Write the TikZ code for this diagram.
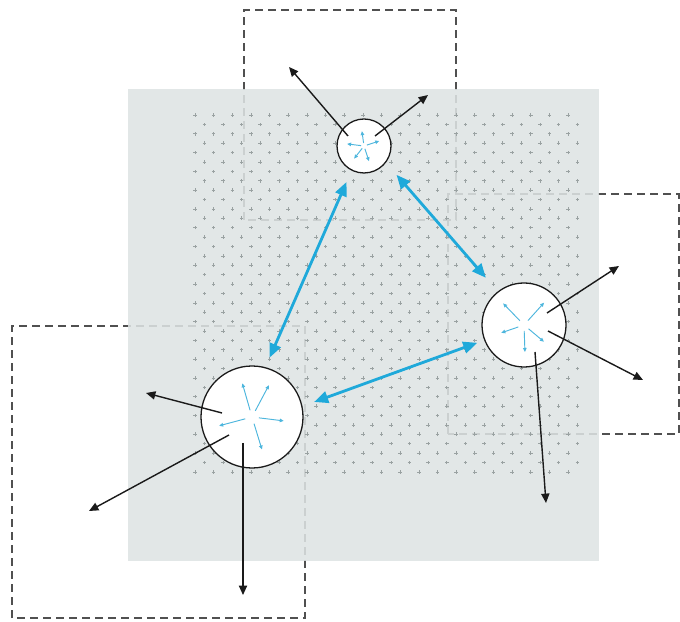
\documentclass[tikz,border=0pt]{standalone}
\usepackage{tikz}
\usetikzlibrary{arrows.meta,calc}
\definecolor{zoneGray}{HTML}{DEE4E4}
\definecolor{tickGray}{HTML}{9AA2A2}
\definecolor{dashGray}{HTML}{505050}
\definecolor{linkBlue}{HTML}{1FA9DA}
\definecolor{spokeBlue}{HTML}{4DB6DD}
\definecolor{legBlack}{HTML}{1A1A1A}

\begin{document}
\begin{tikzpicture}[x=0.03cm,y=0.03cm,
  hub/.style={draw=legBlack,circle,fill=white,line width=1.1pt,inner sep=0pt,outer sep=0pt},
  cell/.style={draw=dashGray,dashed,dash pattern=on 6.8pt off 4.3pt,line width=1.3pt},
  tick/.style={draw=tickGray,line width=0.5pt},
  leg/.style={-{Triangle[length=8pt,width=7pt]},draw=legBlack,line width=1.2pt},
  link/.style={{Triangle[length=12pt,width=10pt]}-{Triangle[length=12pt,width=10pt]},draw=linkBlue,line width=2.4pt},
  spoke/.style={-{Triangle[length=3.4pt,width=3pt]},draw=spokeBlue,line width=0.8pt}]
\useasboundingbox (0,0) rectangle (680,621);
% coverage cells, under the zone
\draw[cell] (244,401) rectangle (456,611);
\draw[cell] (448,187) rectangle (679,427);
\draw[cell] (12,3) rectangle (305,295);
% shared zone
\fill[zoneGray,fill opacity=0.87] (128,60) rectangle (599,532);
% staggered grid of crosses
\foreach \j in {0,...,19}
  \foreach \i in {0,...,20}
    \draw[tick] ({195+18.65*\i},{506-18.78*\j}) +(-1.8,0) -- +(1.8,0) +(0,-1.8) -- +(0,1.8);
\foreach \j in {0,...,18}
  \foreach \i in {0,...,20}
    \draw[tick] ({204.3+18.65*\i},{496.6-18.78*\j}) +(-1.8,0) -- +(1.8,0) +(0,-1.8) -- +(0,1.8);
% hubs
\node[hub,minimum size=1.62cm] (hubtop) at (364,475) {};
\node[hub,minimum size=2.52cm] (hubright) at (524,296) {};
\node[hub,minimum size=3.06cm] (hubleft) at (252,204) {};
% spokes inside each hub
\foreach \a/\l in {98/15,18/16,173/17,232/16,288/16}
  \draw[spoke] ($(hubtop)+(\a:3)$) -- ($(hubtop)+(\a:\l)$);
\foreach \a/\l in {134/30,48/30,199/24,320/26,272/27}
  \draw[spoke] ($(hubright)+(\a:6)$) -- ($(hubright)+(\a:\l)$);
\foreach \a/\l in {106/35,62/36,353/32,195/34,287/34}
  \draw[spoke] ($(hubleft)+(\a:7)$) -- ($(hubleft)+(\a:\l)$);
% outgoing legs
\coordinate (tTopL) at (289,554);
\coordinate (tTopR) at (428,526);
\coordinate (tRightU) at (619,355);
\coordinate (tRightR) at (643,241);
\coordinate (tRightD) at (546,118);
\coordinate (tLeftL) at (146,228);
\coordinate (tLeftD) at (89,110);
\coordinate (tLeftB) at (243,26);
\draw[leg] ($(hubtop)+(-16,10)$) -- (tTopL);
\draw[leg] ($(hubtop)+(11,10)$) -- (tTopR);
\draw[leg] ($(hubright)+(23,12)$) -- (tRightU);
\draw[leg] ($(hubright)+(24,-6)$) -- (tRightR);
\draw[leg] ($(hubright)+(11,-27)$) -- (tRightD);
\draw[leg] ($(hubleft)+(-30,4)$) -- (tLeftL);
\draw[leg] ($(hubleft)+(-23,-18)$) -- (tLeftD);
\draw[leg] ($(hubleft)+(-9,-26)$) -- (tLeftB);
% links between hubs
\draw[link,shorten <=0.39cm,shorten >=0.33cm] (hubtop.243) -- (hubleft.75);
\draw[link,shorten <=0.5cm,shorten >=0.56cm] (hubtop.323) -- (hubright.128);
\draw[link,shorten <=0.39cm,shorten >=0.24cm] (hubleft.12) -- (hubright.201);
\end{tikzpicture}
\end{document}
